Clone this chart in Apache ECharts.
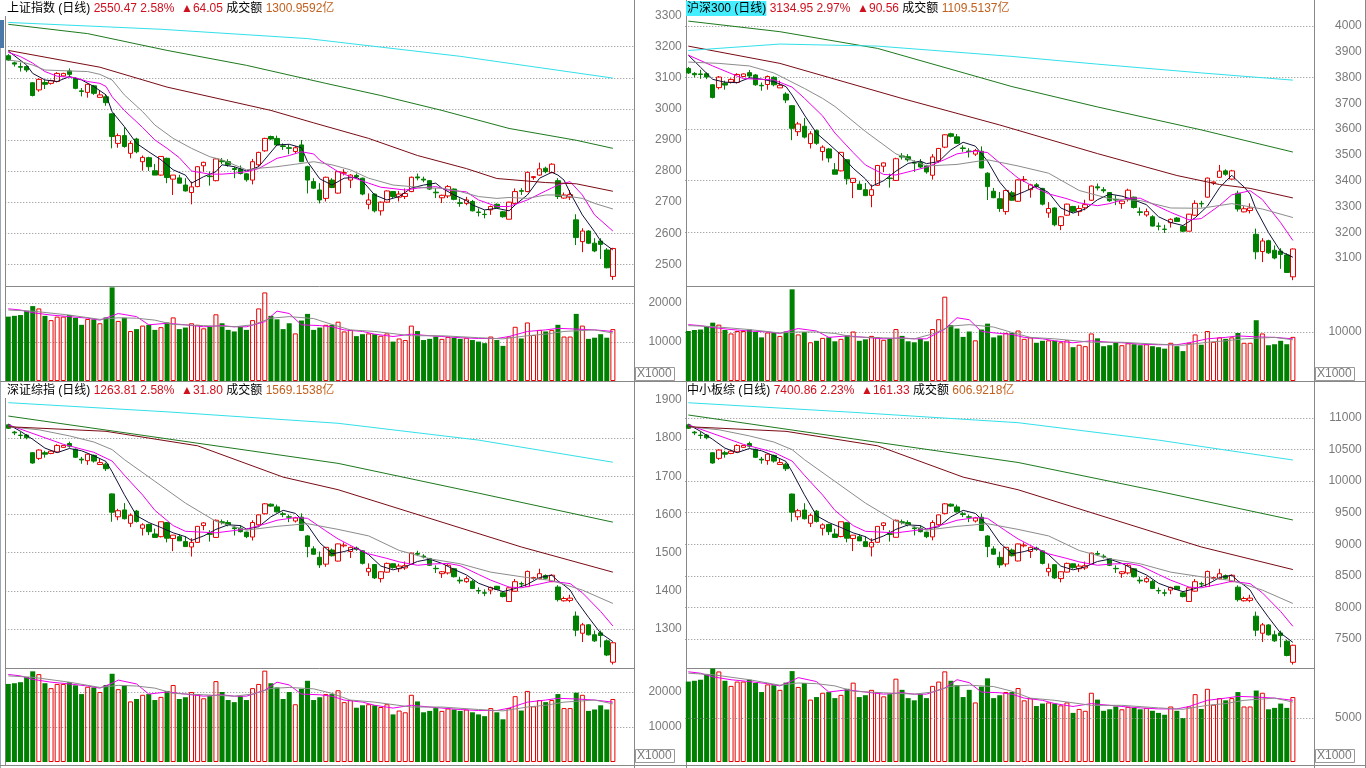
<!DOCTYPE html>
<html><head><meta charset="utf-8">
<script src="https://cdn.jsdelivr.net/npm/echarts@6/dist/echarts.min.js"></script>
<style>html,body{margin:0;padding:0;background:#fff}#c{width:1366px;height:768px}</style>
</head><body><div id="c"></div>
<script>
// candles: [open, close, low, high]; MA lines: [candle index, value]
// ===== 上证指数 =====
const sh_k = [
[3171,3157,3154,3176],[3148,3144,3136,3152],[3136,3134,3120,3149],[3136,3125,3118,3140],[3084,3043,3040,3086],
[3061,3095,3055,3098],[3085,3079,3064,3093],[3082,3091,3078,3094],[3088,3114,3085,3118],[3106,3114,3104,3116],
[3122,3111,3104,3130],[3098,3066,3063,3101],[3058,3056,3040,3067],[3053,3079,3036,3082],[3074,3050,3045,3077],
[3037,3045,3037,3060],[3039,3020,3010,3045],[2984,2911,2873,2986],[2889,2914,2875,2921],[2914,2879,2875,2941],
[2857,2889,2841,2897],[2903,2862,2857,2907],[2830,2844,2801,2850],[2843,2814,2800,2846],[2801,2787,2787,2823],
[2787,2847,2785,2848],[2841,2779,2761,2843],[2774,2787,2723,2787],[2778,2761,2761,2788],[2755,2736,2734,2777],
[2731,2749,2693,2766],[2750,2814,2748,2816],[2817,2828,2798,2830],[2784,2782,2753,2798],[2769,2839,2767,2842],
[2833,2830,2822,2842],[2830,2820,2814,2838],[2808,2805,2777,2814],[2806,2792,2789,2818],[2791,2772,2766,2793],
[2771,2830,2757,2839],[2820,2860,2814,2862],[2865,2905,2862,2907],[2911,2903,2900,2914],[2905,2884,2882,2914],
[2881,2879,2868,2889],[2875,2873,2854,2884],[2863,2875,2857,2880],[2884,2830,2830,2900],[2814,2771,2728,2817],
[2766,2745,2743,2777],[2739,2707,2696,2761],[2712,2780,2702,2782],[2771,2747,2745,2777],[2729,2798,2727,2800],
[2793,2795,2786,2806],[2771,2787,2745,2790],[2786,2781,2775,2792],[2777,2726,2722,2779],[2693,2707,2677,2728],
[2726,2672,2667,2728],[2672,2700,2657,2702],[2700,2736,2698,2738],[2734,2718,2713,2736],[2716,2726,2702,2736],
[2718,2728,2710,2744],[2734,2780,2732,2782],[2781,2778,2770,2792],[2774,2771,2764,2782],[2769,2742,2739,2771],
[2732,2730,2713,2745],[2714,2722,2697,2724],[2720,2750,2713,2755],[2742,2709,2706,2744],[2698,2696,2685,2712],
[2696,2707,2690,2717],[2702,2672,2670,2707],[2668,2667,2654,2680],[2661,2660,2648,2675],[2675,2686,2659,2689],
[2693,2682,2680,2696],[2669,2653,2650,2672],[2645,2700,2645,2701],[2696,2734,2694,2744],[2737,2735,2723,2745],
[2734,2796,2732,2798],[2779,2782,2772,2784],[2787,2807,2785,2827],[2809,2798,2793,2814],[2795,2822,2793,2825],
[2769,2718,2710,2777],[2713,2723,2711,2731],[2716,2724,2707,2739],[2643,2586,2562,2661],[2573,2607,2539,2616],
[2607,2568,2565,2610],[2568,2543,2539,2584],[2575,2564,2517,2584],[2546,2489,2487,2552],[2461,2551,2450,2553]
];
const sh_vol = [
16500,16700,16900,18000,19200,18600,16700,15600,16500,16500,16900,16200,14400,15900,15800,14800,16300,24000,15400,16200,
12800,13300,14200,14400,13100,13800,15000,16300,13300,13700,14800,14400,13500,13900,17100,14800,13100,12700,13900,13100,
15600,18600,22700,16700,15800,13300,14800,12200,15500,17200,13100,13700,14400,14400,15200,12700,13100,11500,12000,12200,
12000,11600,12200,10100,10900,10500,14200,12800,10500,10800,11400,10800,11300,11100,10800,11100,10500,10100,9700,11400,
10500,9000,11400,13900,10900,15000,11800,13100,12700,13100,14400,11400,11400,17200,14200,10800,11100,12000,11100,13300
];
const sh_ma5 = [[0,3186],[3,3141],[4,3114],[6,3093],[8,3088],[10,3104],[12,3093],[14,3072],[16,3045],[17,2991],[19,2943],[21,2889],[23,2862],[25,2836],[27,2804],[29,2787],[30,2761],[32,2782],[34,2798],[35,2820],[37,2814],[39,2800],[41,2814],[44,2884],[46,2886],[48,2875],[49,2830],[51,2775],[53,2755],[55,2777],[57,2780],[58,2768],[60,2723],[62,2707],[64,2718],[66,2745],[68,2755],[70,2761],[71,2745],[73,2723],[75,2705],[76,2691],[78,2675],[80,2680],[82,2672],[83,2691],[85,2723],[87,2777],[89,2796],[90,2787],[91,2771],[92,2730],[94,2659],[96,2605],[97,2575],[99,2546]];
const sh_ma10 = [[0,3182],[2,3168],[4,3147],[6,3120],[8,3105],[11,3100],[13,3088],[15,3082],[16,3072],[17,3039],[19,2995],[22,2940],[24,2900],[26,2873],[28,2843],[30,2800],[33,2790],[35,2790],[37,2793],[39,2798],[41,2808],[44,2841],[46,2850],[48,2862],[50,2855],[51,2835],[54,2798],[56,2782],[59,2761],[61,2748],[65,2739],[67,2745],[70,2750],[72,2739],[75,2733],[77,2707],[80,2686],[82,2686],[85,2707],[88,2736],[90,2755],[92,2766],[94,2723],[96,2659],[99,2607]];
const sh_ma20 = [[0,3157],[2,3152],[4,3141],[6,3125],[10,3122],[13,3120],[15,3111],[17,3093],[19,3045],[22,2991],[24,2948],[27,2905],[30,2873],[33,2846],[35,2836],[37,2820],[39,2804],[41,2809],[44,2814],[47,2822],[50,2830],[53,2820],[56,2804],[59,2777],[63,2755],[66,2750],[69,2745],[71,2745],[74,2734],[77,2718],[80,2712],[82,2715],[85,2712],[88,2723],[90,2723],[92,2718],[94,2712],[96,2696],[99,2678]];
const sh_ma60 = [[0,3188],[15,3134],[26,3070],[43,2995],[50,2955],[59,2905],[67,2850],[75,2808],[80,2776],[88,2763],[93,2759],[99,2735]];
const sh_ma120 = [[0,3272],[13,3242],[26,3188],[39,3140],[52,3082],[61,3043],[71,2995],[82,2937],[93,2899],[99,2873]];
const sh_ma250 = [[0,3278],[25,3256],[49,3226],[74,3169],[99,3099]];
const sh_vma5 = [[0,18500],[2,18200],[4,17500],[7,16900],[10,16500],[13,16100],[15,15600],[17,16700],[18,17300],[21,16500],[23,14400],[26,14800],[29,14400],[32,13900],[35,14200],[37,13900],[39,13900],[42,15200],[44,17900],[46,17300],[48,14400],[51,14200],[53,13900],[55,13100],[58,12700],[60,12000],[63,11400],[66,12000],[69,11600],[71,11400],[74,11100],[77,10900],[80,10900],[82,11400],[85,12700],[88,13100],[90,13500],[93,13300],[96,13100],[99,12700]];
const sh_vma10 = [[0,18200],[4,17900],[10,16900],[15,15800],[18,16200],[21,16100],[24,15600],[27,14500],[32,14200],[37,13900],[40,14400],[43,16100],[46,16500],[50,16000],[53,14500],[56,13100],[60,12700],[66,11600],[71,11600],[77,11100],[81,10800],[85,11600],[88,12000],[91,12700],[96,13100],[99,12300]];

// ===== 沪深300 =====
const hs_k = [
[3835,3818,3814,3841],[3816,3811,3801,3821],[3814,3812,3795,3830],[3815,3802,3794,3820],[3772,3723,3719,3774],
[3761,3802,3754,3806],[3778,3771,3753,3788],[3782,3793,3777,3797],[3781,3812,3777,3817],[3804,3814,3802,3816],
[3819,3806,3798,3829],[3810,3772,3768,3814],[3770,3768,3749,3781],[3773,3804,3753,3808],[3801,3772,3766,3805],
[3760,3770,3760,3788],[3736,3713,3701,3743],[3691,3603,3557,3693],[3590,3620,3573,3628],[3611,3569,3564,3643],
[3544,3582,3525,3592],[3594,3545,3539,3599],[3513,3530,3478,3537],[3523,3488,3471,3527],[3442,3425,3425,3468],
[3438,3510,3436,3511],[3481,3407,3385,3483],[3393,3409,3332,3409],[3386,3366,3366,3398],[3365,3342,3340,3391],
[3343,3365,3297,3385],[3382,3459,3380,3461],[3456,3469,3433,3471],[3410,3408,3373,3427],[3401,3485,3399,3489],
[3496,3492,3482,3507],[3493,3481,3474,3503],[3472,3468,3434,3479],[3470,3453,3449,3484],[3457,3434,3427,3459],
[3421,3492,3404,3503],[3477,3525,3470,3527],[3530,3578,3526,3580],[3582,3572,3568,3586],[3570,3545,3543,3581],
[3527,3525,3512,3537],[3515,3513,3490,3526],[3503,3517,3496,3523],[3514,3449,3449,3533],[3429,3377,3325,3433],
[3359,3334,3332,3372],[3330,3292,3279,3356],[3280,3362,3268,3364],[3353,3324,3322,3360],[3320,3403,3318,3405],
[3403,3405,3395,3418],[3365,3384,3334,3388],[3384,3378,3371,3391],[3370,3309,3304,3372],[3275,3292,3256,3317],
[3294,3229,3223,3296],[3226,3260,3208,3262],[3266,3309,3264,3311],[3300,3281,3275,3302],[3280,3292,3263,3304],
[3295,3307,3285,3326],[3324,3379,3322,3381],[3376,3372,3362,3389],[3365,3361,3353,3375],[3354,3322,3318,3356],
[3327,3325,3305,3343],[3311,3321,3291,3323],[3327,3363,3319,3369],[3336,3296,3292,3338],[3279,3277,3264,3296],
[3267,3280,3260,3292],[3260,3224,3222,3266],[3224,3223,3207,3238],[3212,3211,3197,3229],[3237,3250,3218,3254],
[3255,3242,3240,3259],[3223,3204,3200,3227],[3204,3270,3204,3271],[3266,3312,3264,3324],[3312,3310,3296,3322],
[3336,3410,3334,3412],[3391,3395,3383,3397],[3413,3437,3411,3461],[3438,3425,3419,3444],[3406,3438,3404,3442],
[3351,3290,3280,3361],[3279,3291,3277,3301],[3284,3294,3273,3312],[3192,3124,3095,3214],[3125,3166,3084,3177],
[3167,3120,3116,3171],[3130,3100,3095,3149],[3127,3114,3058,3138],[3112,3044,3042,3119],[3027,3135,3014,3137]
];
const hs_vol = [
10200,10400,10500,11200,11900,11500,10400,9700,10200,10200,10500,10000,8900,9900,9800,9200,10100,18700,9500,10000,
7900,8200,8800,8900,8100,8600,9300,10100,8200,8500,9200,8900,8400,8600,10600,9200,8100,7900,8600,8100,
10600,12600,17200,11400,10700,9000,10100,8300,10500,11700,8900,9300,9800,9800,10300,8600,8900,7800,8200,8300,
8200,7900,8300,6900,7400,7100,9700,8700,7100,7300,7800,7300,7700,7500,7300,7500,7100,6900,6600,7800,
7100,6100,7800,9500,7400,10200,8000,8900,8600,8900,9800,7800,7800,12400,9700,7300,7500,8200,7500,9000
];
const hs_ma5 = [[0,3887],[2,3840],[4,3793],[6,3782],[8,3780],[10,3799],[12,3794],[14,3784],[16,3765],[17,3732],[19,3655],[21,3584],[23,3543],[25,3500],[27,3448],[29,3407],[30,3378],[32,3400],[34,3437],[36,3467],[38,3476],[39,3466],[41,3474],[43,3520],[45,3549],[47,3534],[49,3476],[51,3394],[53,3338],[55,3357],[57,3379],[59,3354],[61,3294],[63,3274],[65,3290],[67,3326],[69,3348],[71,3340],[73,3325],[75,3307],[77,3260],[79,3238],[81,3226],[83,3256],[85,3301],[87,3373],[89,3421],[90,3397],[91,3376],[92,3348],[93,3287],[95,3199],[97,3125],[99,3103]];
const hs_ma10 = [[0,3887],[4,3845],[9,3796],[14,3791],[17,3763],[19,3720],[22,3651],[24,3585],[27,3509],[29,3461],[32,3424],[34,3422],[39,3452],[42,3482],[44,3504],[47,3515],[49,3509],[52,3449],[54,3410],[57,3371],[59,3349],[62,3330],[64,3314],[67,3303],[69,3311],[72,3332],[74,3332],[77,3299],[79,3277],[82,3248],[84,3253],[87,3304],[89,3345],[92,3361],[94,3327],[97,3237],[99,3168]];
const hs_ma20 = [[0,3860],[5,3855],[10,3845],[14,3818],[19,3758],[22,3719],[24,3688],[29,3591],[34,3504],[39,3457],[44,3463],[49,3481],[54,3457],[59,3429],[64,3362],[69,3330],[74,3323],[79,3294],[84,3293],[89,3311],[94,3290],[99,3257]];
const hs_ma60 = [[0,3922],[15,3855],[35,3719],[51,3616],[67,3505],[80,3420],[87,3385],[92,3370],[99,3333]];
const hs_ma120 = [[0,4019],[15,3978],[31,3913],[53,3765],[67,3686],[84,3597],[99,3511]];
const hs_ma250 = [[0,3905],[15,3930],[31,3922],[53,3882],[67,3852],[84,3818],[99,3790]];
const hs_vma5 = [[0,11500],[2,11300],[4,10900],[7,10500],[10,10200],[13,10000],[15,9700],[17,10400],[18,10700],[21,10200],[23,8900],[26,9200],[29,8900],[32,8600],[35,8800],[37,8600],[39,8600],[42,10600],[44,12900],[46,12500],[48,10100],[51,9700],[53,9500],[55,8900],[58,8600],[60,8200],[63,7800],[66,8200],[69,7900],[71,7800],[74,7500],[77,7400],[80,7400],[82,7800],[85,8600],[88,8900],[90,9200],[93,9000],[96,8900],[99,8600]];
const hs_vma10 = [[0,11300],[4,11100],[10,10500],[15,9800],[18,10000],[21,10000],[24,9700],[27,9000],[32,8800],[37,8600],[40,9600],[43,11200],[46,11500],[50,11000],[53,9900],[56,8900],[60,8600],[66,7900],[71,7900],[77,7500],[81,7300],[85,7900],[88,8200],[91,8600],[96,8900],[99,8400]];

// ===== 深证综指 =====
const sz_k = [
[1835,1826,1824,1838],[1816,1814,1808,1819],[1808,1807,1798,1817],[1808,1801,1797,1811],[1762,1735,1733,1763],
[1747,1769,1743,1771],[1762,1758,1749,1767],[1760,1766,1758,1768],[1764,1781,1762,1784],[1776,1781,1775,1782],
[1786,1779,1775,1791],[1771,1750,1748,1773],[1745,1743,1733,1751],[1741,1758,1730,1760],[1755,1740,1736,1757],
[1731,1736,1731,1746],[1732,1720,1714,1736],[1654,1606,1581,1655],[1594,1610,1585,1615],[1612,1589,1587,1630],
[1577,1598,1567,1603],[1609,1582,1579,1612],[1564,1573,1545,1577],[1574,1555,1546,1576],[1549,1540,1540,1563],
[1542,1581,1540,1581],[1579,1538,1527,1580],[1537,1546,1504,1546],[1542,1531,1531,1548],[1529,1516,1515,1543],
[1515,1527,1490,1538],[1527,1569,1526,1570],[1571,1578,1559,1580],[1550,1548,1529,1559],[1540,1585,1539,1587],
[1581,1579,1574,1587],[1579,1573,1569,1585],[1565,1563,1545,1569],[1564,1555,1553,1572],[1554,1542,1538,1555],
[1541,1579,1532,1585],[1573,1599,1569,1600],[1602,1628,1600,1630],[1627,1622,1620,1629],[1620,1607,1605,1626],
[1602,1600,1593,1607],[1594,1593,1580,1600],[1583,1591,1579,1594],[1593,1558,1558,1603],[1544,1516,1488,1546],
[1510,1496,1495,1517],[1488,1468,1460,1503],[1470,1514,1463,1515],[1507,1492,1490,1511],[1478,1523,1477,1524],
[1518,1520,1514,1527],[1503,1514,1486,1516],[1512,1509,1505,1516],[1505,1472,1469,1506],[1450,1459,1439,1472],
[1469,1434,1431,1470],[1432,1450,1422,1451],[1449,1472,1448,1474],[1471,1461,1458,1472],[1458,1465,1449,1471],
[1460,1466,1455,1477],[1469,1499,1468,1500],[1498,1496,1491,1505],[1491,1489,1485,1496],[1485,1467,1465,1486],
[1459,1458,1447,1467],[1445,1450,1434,1452],[1447,1467,1443,1470],[1458,1437,1435,1460],[1428,1426,1419,1437],
[1424,1432,1421,1438],[1425,1406,1405,1429],[1401,1400,1392,1409],[1395,1394,1386,1404],[1402,1409,1391,1411],
[1412,1404,1403,1413],[1395,1385,1383,1397],[1372,1408,1372,1409],[1399,1424,1398,1431],[1419,1418,1410,1424],
[1411,1451,1410,1453],[1433,1435,1429,1437],[1432,1445,1430,1458],[1440,1433,1430,1443],[1424,1441,1423,1443],
[1410,1377,1372,1415],[1374,1380,1372,1385],[1375,1381,1370,1390],[1334,1297,1281,1346],[1289,1311,1266,1316],
[1311,1285,1283,1313],[1285,1269,1266,1296],[1290,1283,1252,1296],[1269,1232,1229,1273],[1213,1264,1207,1266]
];
const sz_vol = [
22300,22500,22800,24300,25900,25100,22500,21100,22300,22300,22800,21900,19400,21500,21300,20000,22000,25200,20800,21900,
17300,18000,19200,19400,17700,18600,20300,22000,18000,18500,20000,19400,18200,18800,23100,20000,17700,17100,18800,17700,
21100,22300,26100,22500,21300,18000,20000,16500,20900,23200,17700,18500,19400,19400,20500,17100,17700,15500,16200,16500,
16200,15700,16500,13600,14700,14200,19200,17300,14200,14600,15400,14600,15300,15000,14600,15000,14200,13600,13100,15400,
14200,12200,15400,18800,14700,20300,15900,17700,17100,17700,19400,15400,15400,19800,19200,14600,15000,16200,15000,18000
];
const sz_ma5 = [[0,1836],[2,1818],[4,1797],[6,1774],[8,1762],[10,1773],[12,1767],[14,1754],[16,1739],[17,1712],[19,1652],[21,1597],[23,1579],[25,1566],[27,1552],[29,1542],[30,1532],[32,1544],[34,1561],[36,1573],[38,1571],[39,1562],[41,1568],[43,1594],[45,1611],[47,1603],[49,1572],[51,1526],[53,1497],[55,1503],[57,1512],[59,1495],[61,1465],[63,1455],[65,1463],[67,1477],[69,1483],[71,1472],[73,1456],[75,1442],[77,1420],[79,1408],[81,1398],[83,1406],[85,1417],[87,1435],[89,1441],[90,1426],[91,1415],[92,1402],[93,1375],[95,1331],[97,1289],[99,1267]];
const sz_ma10 = [[0,1835],[9,1784],[14,1763],[17,1740],[19,1703],[22,1651],[24,1611],[27,1571],[29,1556],[34,1552],[39,1562],[42,1575],[44,1585],[47,1592],[49,1590],[52,1557],[54,1536],[57,1511],[59,1497],[62,1485],[64,1476],[67,1467],[69,1470],[72,1472],[74,1466],[77,1443],[79,1428],[82,1410],[84,1408],[87,1418],[89,1425],[92,1419],[94,1395],[97,1346],[99,1308]];
const sz_ma20 = [[0,1830],[5,1822],[10,1806],[14,1790],[17,1770],[19,1744],[24,1687],[29,1630],[34,1582],[39,1559],[44,1569],[49,1576],[54,1561],[59,1544],[64,1506],[69,1484],[74,1471],[79,1449],[84,1437],[89,1427],[94,1402],[99,1367]];
const sz_ma60 = [[0,1830],[16,1818],[31,1780],[45,1698],[54,1665],[72,1575],[84,1515],[99,1449]];
const sz_ma120 = [[0,1858],[27,1796],[54,1734],[77,1656],[99,1580]];
const sz_ma250 = [[0,1893],[26,1869],[54,1839],[77,1795],[99,1737]];
const sz_vma5 = [[0,25000],[2,24600],[4,23600],[7,22800],[10,22300],[13,21700],[15,21100],[17,22500],[18,23400],[21,22300],[23,19400],[26,20000],[29,19400],[32,18800],[35,19200],[37,18800],[39,18800],[42,20500],[44,22800],[46,22000],[48,19400],[51,19200],[53,18800],[55,17700],[58,17100],[60,16200],[63,15400],[66,16200],[69,15700],[71,15400],[74,15000],[77,14700],[80,14700],[82,15400],[85,17100],[88,17700],[90,18200],[93,18000],[96,17700],[99,17100]];
const sz_vma10 = [[0,24600],[4,24200],[10,22800],[15,21300],[18,21900],[21,21700],[24,21100],[27,19600],[32,19200],[37,18800],[40,19400],[43,21000],[46,21300],[50,20900],[53,19600],[56,17700],[60,17100],[66,15700],[71,15700],[77,15000],[81,14600],[85,15700],[88,16200],[91,17100],[96,17700],[99,16600]];

// ===== 中小板综 =====
const zx_k = [
[10892,10838,10826,10910],[10777,10765,10729,10795],[10729,10723,10669,10783],[10729,10687,10663,10747],[10450,10288,10276,10456],
[10361,10493,10337,10505],[10451,10427,10373,10481],[10439,10475,10427,10487],[10464,10566,10452,10584],[10536,10566,10530,10572],
[10596,10554,10530,10626],[10504,10378,10366,10516],[10348,10336,10276,10384],[10325,10427,10259,10439],[10408,10318,10294,10420],
[10264,10294,10264,10354],[10269,10197,10161,10293],[9796,9508,9358,9802],[9436,9532,9382,9562],[9543,9405,9393,9651],
[9333,9459,9273,9489],[9525,9363,9345,9543],[9254,9308,9140,9332],[9314,9200,9146,9326],[9163,9109,9109,9247],
[9123,9357,9111,9357],[9343,9097,9031,9349],[9091,9145,8893,9145],[9120,9054,9054,9156],[9042,8964,8958,9126],
[8958,9030,8808,9096],[9032,9284,9026,9290],[9297,9339,9225,9351],[9169,9157,9043,9223],[9111,9381,9105,9393],
[9357,9345,9315,9393],[9344,9308,9284,9380],[9260,9248,9140,9284],[9254,9200,9188,9302],[9193,9121,9097,9199],
[9117,9345,9063,9381],[9310,9466,9286,9472],[9485,9641,9473,9653],[9635,9605,9593,9647],[9592,9514,9502,9628],
[9484,9472,9430,9514],[9435,9429,9351,9471],[9369,9417,9345,9435],[9428,9218,9218,9488],[9132,8964,8796,9144],
[8927,8843,8837,8969],[8794,8674,8626,8884],[8688,8952,8646,8958],[8909,8819,8807,8933],[8736,9006,8730,9012],
[8976,8988,8952,9030],[8886,8952,8784,8964],[8939,8921,8897,8963],[8896,8698,8680,8902],[8565,8619,8499,8697],
[8678,8468,8450,8684],[8457,8565,8397,8571],[8560,8698,8554,8710],[8691,8631,8613,8697],[8613,8655,8559,8691],
[8625,8661,8595,8727],[8681,8861,8675,8867],[8855,8843,8813,8897],[8812,8800,8776,8842],[8775,8667,8655,8781],
[8619,8613,8547,8667],[8535,8565,8469,8577],[8547,8667,8523,8685],[8612,8486,8474,8624],[8432,8420,8378,8486],
[8408,8456,8390,8492],[8413,8299,8293,8437],[8269,8263,8215,8317],[8232,8226,8178,8286],[8275,8317,8209,8329],
[8335,8287,8281,8341],[8232,8172,8160,8244],[8095,8311,8095,8317],[8258,8408,8252,8450],[8377,8371,8323,8407],
[8331,8571,8325,8583],[8462,8474,8438,8486],[8456,8534,8444,8612],[8504,8462,8444,8522],[8408,8510,8402,8522],
[8321,8123,8093,8351],[8106,8142,8094,8172],[8112,8148,8082,8202],[7862,7640,7544,7934],[7592,7724,7454,7754],
[7723,7567,7555,7735],[7567,7471,7453,7633],[7597,7555,7369,7633],[7466,7240,7226,7490],[7131,7401,7095,7410]
];
const zx_vol = [
9140,9230,9350,9960,10620,10290,9230,8650,9140,9140,9350,8980,7950,8820,8730,8200,9020,10330,8530,8980,
7090,7380,7870,7950,7260,7630,8320,9020,7380,7590,8200,7950,7460,7710,9470,8200,7260,7010,7710,7260,
8650,9140,10300,9230,8730,7380,8200,6770,8570,9510,7260,7590,7950,7950,8410,7010,7260,6360,6640,6770,
6640,6440,6770,5580,6030,5820,7870,7090,5820,5990,6310,5990,6270,6150,5990,6150,5820,5580,5370,6310,
5820,5000,6310,7710,6030,8320,6520,7260,7010,7260,7950,6310,6310,8120,7870,5990,6150,6640,6150,7380
];
const zx_ma5 = [[0,10898],[2,10789],[4,10662],[6,10523],[8,10451],[10,10517],[12,10481],[14,10402],[16,10312],[17,10149],[19,9786],[21,9453],[23,9345],[25,9266],[27,9181],[29,9121],[30,9060],[32,9133],[34,9236],[36,9308],[38,9296],[39,9242],[41,9278],[43,9435],[45,9538],[47,9490],[49,9302],[51,9024],[53,8849],[55,8885],[57,8940],[59,8837],[61,8655],[63,8595],[65,8643],[67,8728],[69,8764],[71,8698],[73,8601],[75,8516],[77,8383],[79,8311],[81,8250],[83,8299],[85,8365],[87,8474],[89,8510],[90,8420],[91,8353],[92,8275],[93,8111],[95,7845],[97,7592],[99,7447]];
const zx_ma10 = [[0,10892],[9,10584],[14,10457],[17,10318],[19,10094],[22,9780],[24,9538],[27,9296],[29,9206],[34,9181],[39,9242],[42,9320],[44,9381],[47,9423],[49,9411],[52,9212],[54,9085],[57,8934],[59,8849],[62,8776],[64,8722],[67,8668],[69,8686],[72,8698],[74,8662],[77,8522],[79,8432],[82,8323],[84,8311],[87,8371],[89,8414],[92,8377],[94,8232],[97,7936],[99,7701]];
const zx_ma20 = [[0,10862],[5,10814],[10,10717],[14,10620],[17,10499],[19,10342],[24,9997],[29,9653],[34,9363],[39,9224],[44,9284],[49,9326],[54,9236],[59,9133],[64,8903],[69,8770],[74,8692],[79,8559],[84,8486],[89,8426],[94,8275],[99,8063]];
const zx_ma60 = [[0,10862],[16,10789],[31,10560],[45,10064],[54,9864],[72,9320],[84,8958],[99,8600]];
const zx_ma120 = [[0,11048],[27,10670],[54,10296],[77,9840],[99,9385]];
const zx_ma250 = [[0,11242],[27,11090],[54,10926],[77,10650],[99,10335]];
const zx_vma5 = [[0,10250],[2,10090],[4,9680],[7,9350],[10,9140],[13,8900],[15,8650],[17,9230],[18,9590],[21,9140],[23,7950],[26,8200],[29,7950],[32,7710],[35,7870],[37,7710],[39,7710],[42,8410],[44,9350],[46,9020],[48,7950],[51,7870],[53,7710],[55,7260],[58,7010],[60,6640],[63,6310],[66,6640],[69,6440],[71,6310],[74,6150],[77,6030],[80,6030],[82,6310],[85,7010],[88,7260],[90,7460],[93,7380],[96,7260],[99,7010]];
const zx_vma10 = [[0,10090],[4,9920],[10,9350],[15,8730],[18,8980],[21,8900],[24,8650],[27,8040],[32,7870],[37,7710],[40,7950],[43,8610],[46,8730],[50,8570],[53,8040],[56,7260],[60,7010],[66,6440],[71,6440],[77,6150],[81,5990],[85,6440],[88,6640],[91,7010],[96,7260],[99,6810]];

// header texts
const headers = [
  ['上证指数 (日线)', '2550.47 2.58%', '▲64.05', '1300.9592亿'],
  ['沪深300 (日线)', '3134.95 2.97%', '▲90.56', '1109.5137亿'],
  ['深证综指 (日线)', '1263.81 2.58%', '▲31.80', '1569.1538亿'],
  ['中小板综 (日线)', '7400.86 2.23%', '▲161.33', '606.9218亿']
];

const SLOTS = 103;
const cats = Array.from({length: SLOTS}, (_, i) => i);
const RED = '#e80000', GREEN = '#008000', GRID = '#8a8a8a', LBL = '#7a7a7a';
const FONT = 'Arial, "Liberation Sans", "Noto Sans CJK SC", sans-serif';

const panels = [
  {k: sh_k, vol: sh_vol, ma: [sh_ma5, sh_ma10, sh_ma20, sh_ma60, sh_ma120, sh_ma250], vma: [sh_vma5, sh_vma10],
   left: 5.25,
   pa: {top: 15.6, height: 279.8, min: 2400, max: 3300, interval: 100, showMax: true},
   va: {top: 285.8, height: 95.2, max: 24400, interval: 10000}},
  {k: hs_k, vol: hs_vol, ma: [hs_ma5, hs_ma10, hs_ma20, hs_ma60, hs_ma120, hs_ma250], vma: [hs_vma5, hs_vma10],
   left: 685.25,
   pa: {top: 15.95, height: 267.83, min: 3000, max: 4039, interval: 100, showMax: false, gridInterval: 200},
   va: {top: 285.9, height: 95.1, max: 19400, interval: 10000}},
  {k: sz_k, vol: sz_vol, ma: [sz_ma5, sz_ma10, sz_ma20, sz_ma60, sz_ma120, sz_ma250], vma: [sz_vma5, sz_vma10],
   left: 5.25,
   pa: {top: 400, height: 267.2, min: 1200, max: 1900, interval: 100, showMax: true},
   va: {top: 668.0, height: 94.0, max: 26850, interval: 10000}},
  {k: zx_k, vol: zx_vol, ma: [zx_ma5, zx_ma10, zx_ma20, zx_ma60, zx_ma120, zx_ma250], vma: [zx_vma5, zx_vma10],
   left: 685.25,
   pa: {top: 398, height: 272.6, min: 7000, max: 11317, interval: 500, showMax: false},
   va: {top: 668.0, height: 94.0, max: 10682, interval: 5000, only: 5000}}
];
const maColors = ['#101038', '#ee00ee', '#8c8c8c', '#7a0a14', '#1e7a1e', '#33e0ea'];
const vmaColors = ['#ee00ee', '#8c8c8c'];

const grid = [], xAxis = [], yAxis = [], series = [], title = [];
const dotted = {color: GRID, type: [1, 2], width: 1};

panels.forEach((p, pi) => {
  const gP = grid.length;
  grid.push({left: p.left, top: p.pa.top, width: 629, height: p.pa.height});
  grid.push({left: p.left, top: p.va.top, width: 629, height: p.va.height});
  [gP, gP + 1].forEach(g => xAxis.push({type: 'category', gridIndex: g, data: cats, boundaryGap: true, show: false}));
  const yPrice = yAxis.length;
  yAxis.push({type: 'value', gridIndex: gP, position: 'right', min: p.pa.min, max: p.pa.max, interval: p.pa.interval,
    axisLine: {show: false}, axisTick: {show: false},
    axisLabel: {align: 'right', margin: 47.5, color: LBL, fontSize: 12, fontFamily: FONT, showMinLabel: false, showMaxLabel: p.pa.showMax,
      formatter: v => String(v)},
    splitLine: {show: !p.pa.gridInterval, showMinLine: false, showMaxLine: false, lineStyle: dotted}});
  if (p.pa.gridInterval) {
    yAxis.push({type: 'value', gridIndex: gP, position: 'right', min: p.pa.min, max: p.pa.max, interval: p.pa.gridInterval,
      axisLine: {show: false}, axisTick: {show: false}, axisLabel: {show: false},
      splitLine: {show: true, showMinLine: false, showMaxLine: false, lineStyle: dotted}});
  }
  const yVol = yAxis.length;
  yAxis.push({type: 'value', gridIndex: gP + 1, position: 'right', min: 0, max: p.va.max, interval: p.va.interval,
    axisLine: {show: false}, axisTick: {show: false},
    axisLabel: {align: 'right', margin: 47.5, color: LBL, fontSize: 12, fontFamily: FONT, showMinLabel: false, showMaxLabel: false,
      formatter: v => (p.va.only && v !== p.va.only) ? '' : String(v)},
    splitLine: {show: !p.va.only, showMinLine: false, showMaxLine: false, lineStyle: dotted}});

  series.push({type: 'candlestick', xAxisIndex: gP, yAxisIndex: yPrice, data: p.k, barWidth: 5, z: 3,
    itemStyle: {color: 'rgba(0,0,0,0)', color0: GREEN, borderColor: RED, borderColor0: GREEN, borderWidth: 1}});
  p.ma.forEach((d, j) => series.push({type: 'line', xAxisIndex: gP, yAxisIndex: yPrice, data: d, showSymbol: false,
    symbol: 'none', z: 4, lineStyle: {color: maColors[j], width: 1}}));
  const vdata = p.vol.map((v, i) => {
    const up = p.k[i] && p.k[i][1] >= p.k[i][0];
    return {value: v, itemStyle: up ? {color: 'rgba(0,0,0,0)', borderColor: RED, borderWidth: 1} : {color: GREEN, borderColor: GREEN, borderWidth: 0}};
  });
  const vs = {type: 'bar', xAxisIndex: gP + 1, yAxisIndex: yVol, data: vdata, barWidth: 5, z: 3};
  if (p.va.only) vs.markLine = {silent: true, symbol: 'none', label: {show: false}, lineStyle: dotted, data: [{yAxis: p.va.only}]};
  series.push(vs);
  p.vma.forEach((d, j) => series.push({type: 'line', xAxisIndex: gP + 1, yAxisIndex: yVol, data: d, showSymbol: false,
    symbol: 'none', z: 4, lineStyle: {color: vmaColors[j], width: 1}}));

  const h = headers[pi];
  const hy = pi < 2 ? 1 : 383;
  const hx = pi % 2 === 0 ? 6 : 686;
  const st = (c, extra) => Object.assign({fontSize: 12, fontFamily: FONT, fontWeight: 'normal', color: c}, extra || {});
  title.push({left: hx, top: hy, padding: 0,
    text: `{n|${h[0]}}{s| }{r|${h[1]}}{s|  }{r|${h[2]}}{s| }{k|成交额}{s| }{o|${h[3]}}`,
    textStyle: {fontWeight: 'normal', rich: {
      n: st('#000', {backgroundColor: pi === 1 ? '#44eeff' : 'transparent', padding: [2, 0, 1, 1]}),
      s: st('#000'),
      r: st('#d0101e'),
      k: st('#000'),
      o: st('#c2601e')}}});
});

const LC = '#888';
const ln = (x1, y1, x2, y2, c) => ({type: 'line', silent: true, shape: {x1, y1, x2, y2}, style: {stroke: c || LC, lineWidth: 1}});
const graphic = [
  {type: 'rect', silent: true, shape: {x: 0, y: 20, width: 4, height: 28}, style: {fill: '#4a78a8'}},
  ln(0.5, 48, 0.5, 768, '#9aa8b8'),
  ln(5.5, 16, 5.5, 381), ln(5.5, 398, 5.5, 765),
  ln(634.5, 0, 634.5, 768), ln(686.5, 0, 686.5, 768), ln(1314.5, 0, 1314.5, 768), ln(1365.5, 0, 1365.5, 768),
  ln(5, 286.5, 634, 286.5), ln(686, 286.5, 1314, 286.5),
  ln(0, 381.5, 1366, 381.5), ln(5, 668.5, 634, 668.5), ln(686, 668.5, 1314, 668.5), ln(0, 765.5, 1366, 765.5)
];
[[635, 367], [1315, 367], [635, 749], [1315, 749]].forEach(([x, y]) => {
  graphic.push({type: 'rect', silent: true, shape: {x: x + 0.5, y: y + 0.5, width: 39, height: 13}, style: {fill: '#fff', stroke: '#999', lineWidth: 1}});
  graphic.push({type: 'text', silent: true, x: x + 2, y: y + 1, style: {text: 'X1000', fill: LBL, fontSize: 12, fontFamily: FONT}});
});

const chart = echarts.init(document.getElementById('c'), null, {renderer: 'canvas'});
chart.setOption({animation: false, backgroundColor: '#fff', title, grid, xAxis, yAxis, series, graphic});
</script></body></html>
